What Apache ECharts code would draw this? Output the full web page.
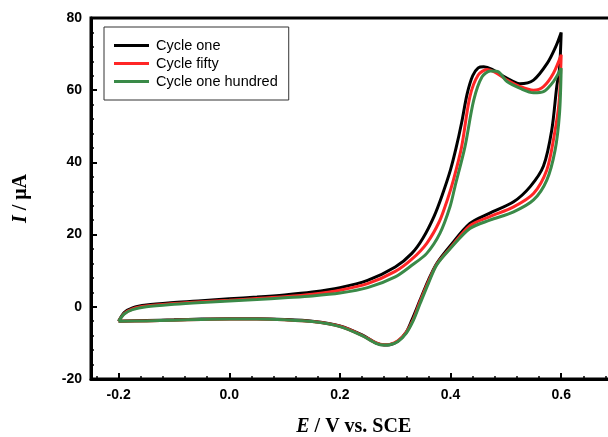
<!DOCTYPE html>
<html>
<head>
<meta charset="utf-8">
<script src="https://cdn.jsdelivr.net/npm/echarts@6/dist/echarts.min.js"></script>
<style>html,body{margin:0;padding:0;background:#fff;overflow:hidden;width:608px;height:437px}#c{width:617px;height:437px}</style>
</head>
<body>
<div id="c"></div>
<script>
// Cycle one (black)
var oneE = [-0.2,-0.19,-0.175,-0.15,-0.1,-0.05,0.0,0.05,0.1,0.15,0.2,0.25,0.3,0.33,0.35,0.37,0.385,0.4,0.41,0.42,0.43,0.44,0.45,0.46,0.475,0.5,0.525,0.55,0.575,0.59,0.6,
            0.597,0.592,0.583,0.568,0.544,0.514,0.47,0.435,0.4,0.375,0.36,0.345,0.33,0.32,0.305,0.29,0.28,0.265,0.24,0.2,0.15,0.1,0.05,0.0,-0.05,-0.1,-0.15,-0.2];
var oneI = [-4.0,-1.6,-0.3,0.5,1.2,1.7,2.2,2.7,3.3,4.1,5.3,7.3,11.0,14.8,19.0,25.0,31.0,38.0,44.0,51.0,59.0,64.0,66.2,66.5,65.8,63.5,61.8,62.8,67.5,72.0,76.0,
            66.0,61.0,49.0,39.0,33.3,29.1,25.9,23.1,17.0,12.0,7.4,1.9,-3.7,-7.0,-9.5,-10.5,-10.6,-10.0,-7.8,-5.3,-4.0,-3.5,-3.3,-3.3,-3.4,-3.6,-3.8,-4.0];
// Cycle fifty (red)
var fiftyE = [-0.2,-0.19,-0.175,-0.15,-0.1,-0.05,0.0,0.05,0.1,0.15,0.2,0.25,0.3,0.33,0.357,0.38,0.395,0.405,0.42,0.435,0.45,0.466,0.48,0.502,0.526,0.55,0.568,0.586,0.6,
              0.596,0.587,0.574,0.55,0.514,0.471,0.435,0.4,0.375,0.36,0.345,0.332,0.32,0.305,0.29,0.28,0.265,0.24,0.2,0.15,0.1,0.05,0.0,-0.05,-0.1,-0.15,-0.2];
var fiftyI = [-4.0,-1.9,-0.6,0.2,0.9,1.4,1.8,2.3,2.8,3.5,4.6,6.4,9.8,13.2,17.6,23.7,30.0,35.0,44.3,58.2,64.2,65.7,65.0,62.8,61.0,60.0,61.0,64.7,69.8,
              56.4,47.1,37.9,31.4,27.7,25.0,22.5,16.4,11.8,7.0,1.5,-3.7,-7.0,-9.4,-10.4,-10.5,-10.0,-7.9,-5.4,-4.1,-3.6,-3.4,-3.4,-3.5,-3.7,-3.9,-4.0];
// Cycle one hundred (green)
var hundredE = [-0.2,-0.19,-0.175,-0.15,-0.1,-0.05,0.0,0.05,0.1,0.15,0.2,0.25,0.3,0.33,0.357,0.381,0.399,0.408,0.426,0.442,0.457,0.472,0.485,0.502,0.526,0.55,0.568,0.586,0.6,
                0.597,0.589,0.574,0.55,0.514,0.471,0.435,0.4,0.375,0.36,0.345,0.333,0.32,0.305,0.29,0.28,0.265,0.24,0.2,0.15,0.1,0.05,0.0,-0.05,-0.1,-0.15,-0.2];
var hundredI = [-4.0,-2.0,-0.8,0.0,0.7,1.2,1.6,2.0,2.5,3.0,3.8,5.3,8.3,11.5,14.8,20.4,27.7,33.3,44.3,57.3,63.7,65.3,65.2,62.4,60.5,59.3,59.6,62.4,66.1,
                53.6,43.4,35.1,29.6,26.3,24.0,21.7,16.2,11.6,6.5,0.9,-3.7,-7.3,-9.6,-10.5,-10.6,-10.1,-8.0,-5.5,-4.1,-3.6,-3.4,-3.4,-3.5,-3.7,-3.9,-4.0];

var seriesNames = ['Cycle one','Cycle fifty','Cycle one hundred'];
var xTicks = [-0.2,0.0,0.2,0.4,0.6];
var xMinorTicks = [-0.24,-0.16,-0.12,-0.08,-0.04,0.04,0.08,0.12,0.16,0.24,0.28,0.32,0.36,0.44,0.48,0.52,0.56,0.64,0.68];

function pairs(xs, ys){ return xs.map(function(x,i){ return [x, ys[i]]; }); }

var chart = echarts.init(document.getElementById('c'), null, {renderer:'canvas'});
var colors = ['#000000','#ff2626','#3a8a48'];
var datas = [pairs(oneE,oneI), pairs(fiftyE,fiftyI), pairs(hundredE,hundredI)];

chart.setOption({
  animation:false,
  backgroundColor:'#fff',
  grid:{left:91, top:18, right:0.5, bottom:58, show:true, borderColor:'#000', borderWidth:3, backgroundColor:'transparent',
        containLabel:false, outerBoundsMode:'none'},
  legend:{
    data:seriesNames, orient:'vertical', left:104, top:27,
    padding:[11,11,11,10], itemGap:3, itemWidth:35, itemHeight:3, icon:'rect',
    borderColor:'#333', borderWidth:1, backgroundColor:'#fff',
    textStyle:{fontFamily:'Liberation Sans', fontSize:14.5, color:'#000', lineHeight:15, padding:[0,0,0,2]}
  },
  xAxis:[{
    type:'value', min:-0.25, max:0.7,
    name:'{i|E} / V vs. SCE', nameLocation:'middle', nameGap:38,
    nameTextStyle:{fontFamily:'Liberation Serif', fontWeight:'bold', fontSize:20, color:'#000',
      rich:{i:{fontFamily:'Liberation Serif', fontWeight:'bold', fontStyle:'italic', fontSize:20, color:'#000'}}},
    axisLine:{show:true, onZero:false, lineStyle:{color:'#000', width:3}},
    axisTick:{show:true, inside:true, length:6, lineStyle:{color:'#000', width:2}, customValues:xTicks},
    axisLabel:{customValues:xTicks, fontFamily:'Liberation Sans', fontWeight:'bold', fontSize:14, color:'#000', margin:9,
      formatter:function(v){ return v.toFixed(1); }},
    splitLine:{show:false}
  },{
    type:'value', min:-0.25, max:0.7, position:'bottom', gridIndex:0,
    axisLine:{show:false, onZero:false},
    axisTick:{show:true, inside:true, length:3, lineStyle:{color:'#000', width:1.5}, customValues:xMinorTicks},
    axisLabel:{show:false},
    splitLine:{show:false}
  }],
  yAxis:{
    type:'value', min:-20, max:80, interval:20,
    name:'{i|I} / μA', nameLocation:'middle', nameGap:60, nameRotate:90,
    nameTextStyle:{fontFamily:'Liberation Serif', fontWeight:'bold', fontSize:20, color:'#000',
      rich:{i:{fontFamily:'Liberation Serif', fontWeight:'bold', fontStyle:'italic', fontSize:20, color:'#000'}}},
    axisLine:{show:true, onZero:false, lineStyle:{color:'#000', width:3}},
    axisTick:{show:true, inside:true, length:6, lineStyle:{color:'#000', width:2}},
    minorTick:{show:true, splitNumber:5, length:3, lineStyle:{color:'#000', width:1.5}},
    axisLabel:{fontFamily:'Liberation Sans', fontWeight:'bold', fontSize:14, color:'#000', margin:9},
    splitLine:{show:false}, minorSplitLine:{show:false}
  },
  series: seriesNames.map(function(n,i){
    return {name:n, type:'line', data:datas[i], showSymbol:false, symbol:'none', smooth:0.3,
      lineStyle:{color:colors[i], width:3}, itemStyle:{color:colors[i]}, z:2+i};
  })
});
</script>
</body>
</html>
